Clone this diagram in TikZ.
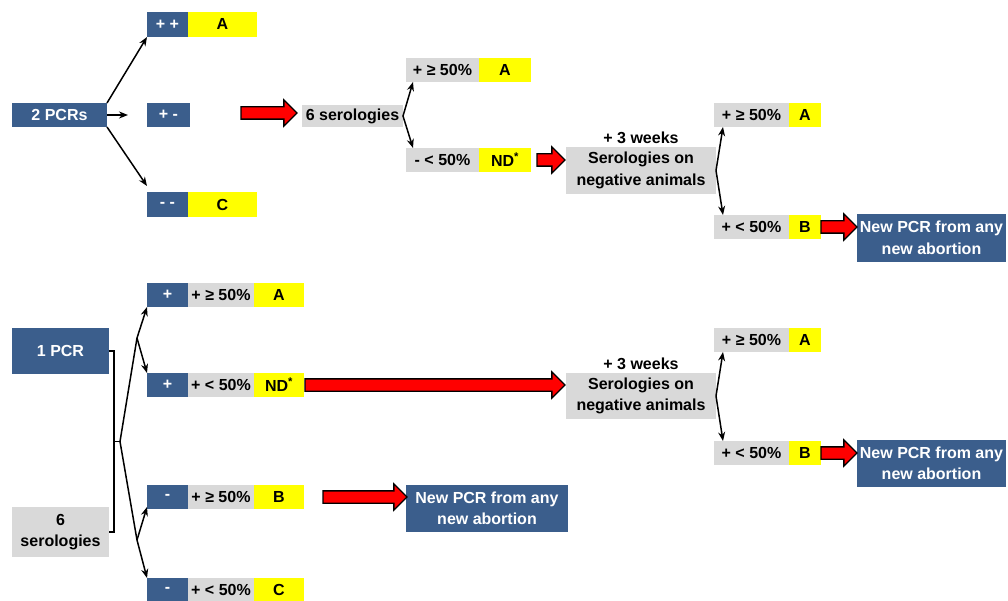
\documentclass[tikz,border=0pt]{standalone}
\usepackage{fontspec}
\setmainfont{Liberation Sans}
\usetikzlibrary{positioning,shapes.arrows,arrows.meta}
\definecolor{boxblue}{RGB}{59,94,140}
\definecolor{boxgrey}{RGB}{217,217,217}
\definecolor{boxyellow}{RGB}{255,255,0}
\tikzset{
  box/.style={minimum height=24pt, inner sep=0pt, outer sep=0pt, align=center,
    font=\bfseries\fontsize{16}{21.5}\selectfont},
  bluebox/.style={box, fill=boxblue, text=white},
  greybox/.style={box, fill=boxgrey},
  yellowbox/.style={box, fill=boxyellow},
  plain/.style={inner sep=0pt, font=\bfseries\fontsize{16}{21.5}\selectfont},
  fork/.style={-{Stealth[length=9pt,width=7pt]}, line width=1.5pt},
  forks/.style={{Stealth[length=9pt,width=7pt]}-{Stealth[length=9pt,width=7pt]}, line width=1.5pt},
  redarrow/.style={single arrow, draw=black, fill=red, line width=1.3pt,
    inner xsep=0pt, inner ysep=5.5pt, single arrow head extend=7pt,
    outer sep=0pt, anchor=tail}
}
\begin{document}
\begin{tikzpicture}[x=1pt,y=-1pt]
\useasboundingbox (0,0) rectangle (1008,601);
% top part
\node[bluebox, anchor=north west, minimum width=95pt] (pcr2) at (12,103) {2 PCRs};
\node[bluebox, anchor=north west, minimum width=41pt, minimum height=25pt] (pp) at (147,12) {+ +};
\node[yellowbox, minimum width=69pt, minimum height=25pt, right=0pt of pp] (ppA) {A};
\node[bluebox, anchor=north west, minimum width=43pt] (pm) at (147,103) {+ -};
\node[bluebox, anchor=north west, minimum width=41pt, minimum height=25pt] (mm) at (147,192) {- -};
\node[yellowbox, minimum width=69pt, minimum height=25pt, right=0pt of mm] (mmC) {C};
\draw[fork] (pcr2.north east) -- (pp.south west);
\draw[fork] (pcr2.east) -- ([xshift=-19pt]pm.west);
\draw[fork] (pcr2.south east) -- ([yshift=6pt]mm.north west);

\node[greybox, anchor=north west, minimum width=101pt, minimum height=22pt] (sero) at (302,105) {6 serologies};
\node[redarrow, minimum height=56pt] (ar1) at ([xshift=51pt,yshift=2pt]pm.east) {};
\node[greybox, anchor=north west, minimum width=73pt] (ge1) at (406,58) {+ ≥ 50\%};
\node[yellowbox, minimum width=52pt, right=0pt of ge1] (ge1A) {A};
\node[greybox, anchor=north west, minimum width=73pt] (lt1) at (406,148) {- < 50\%};
\node[yellowbox, minimum width=52pt, right=0pt of lt1] (nd1) {ND\textsuperscript{*}};
\draw[forks] ([xshift=7pt]ge1.south west) -- (sero.east) -- ([xshift=7pt]lt1.north west);

\node[greybox, anchor=north west, minimum width=150pt, minimum height=47pt] (neg1) at (566,147) {Serologies on\\negative animals};
\node[plain, above=3pt of neg1] (wk1) {+ 3 weeks};
\node[redarrow, minimum height=28pt] (ar2) at ([xshift=6pt]nd1.east) {};
\node[greybox, anchor=north west, minimum width=75pt] (ge2) at (714,103) {+ ≥ 50\%};
\node[yellowbox, minimum width=32pt, right=0pt of ge2] (ge2A) {A};
\node[greybox, anchor=north west, minimum width=75pt] (lt2) at (714,215) {+ < 50\%};
\node[yellowbox, minimum width=32pt, right=0pt of lt2] (b1) {B};
\draw[forks] ([xshift=9pt]ge2.south west) -- (neg1.east) -- ([xshift=9pt]lt2.north west);
\node[bluebox, anchor=north west, minimum width=149pt, minimum height=48pt] (new1) at (857,214) {New PCR from any\\new abortion};
\node[redarrow, minimum height=36pt] (ar3) at (b1.east) {};

% bottom part
\node[bluebox, anchor=north west, minimum width=97pt, minimum height=46pt] (pcr1) at (12,328) {1 PCR};
\node[greybox, anchor=north west, minimum width=97pt, minimum height=50pt] (sero6) at (12,507) {6\\serologies};
\draw[line width=1.5pt] (pcr1.east) -- ++(5,0) |- (sero6.east);
\path (pcr1.east) -- (sero6.east) coordinate[midway] (mid);
\draw[line width=1.5pt] ([xshift=5pt]mid) -- ++(6,0) coordinate (brk);

\node[bluebox, anchor=north west, minimum width=41pt] (r1) at (147,283) {+};
\node[greybox, minimum width=66pt, right=0pt of r1] (r1g) {+ ≥ 50\%};
\node[yellowbox, minimum width=50pt, right=0pt of r1g] (r1y) {A};
\node[bluebox, anchor=north west, minimum width=41pt] (r2) at (147,373) {+};
\node[greybox, minimum width=66pt, right=0pt of r2] (r2g) {+ < 50\%};
\node[yellowbox, minimum width=50pt, right=0pt of r2g] (nd2) {ND\textsuperscript{*}};
\node[bluebox, anchor=north west, minimum width=41pt] (r3) at (147,485) {-};
\node[greybox, minimum width=66pt, right=0pt of r3] (r3g) {+ ≥ 50\%};
\node[yellowbox, minimum width=50pt, right=0pt of r3g] (b2) {B};
\node[bluebox, anchor=north west, minimum width=41pt] (r4) at (147,578) {-};
\node[greybox, minimum width=66pt, right=0pt of r4] (r4g) {+ < 50\%};
\node[yellowbox, minimum width=50pt, right=0pt of r4g] (r4y) {C};

\coordinate (up) at (137,338);
\coordinate (dn) at (137,540);
\draw[line width=1.5pt] (up) -- (brk) -- (dn);
\draw[fork] (up) -- (r1.south west);
\draw[fork] (up) -- (r2.north west);
\draw[fork] (dn) -- ([yshift=2pt]r3.south west);
\draw[fork] (dn) -- (r4.north west);

\node[greybox, anchor=north west, minimum width=150pt, minimum height=46pt] (neg2) at (566,373) {Serologies on\\negative animals};
\node[plain, above=3pt of neg2] (wk2) {+ 3 weeks};
\node[redarrow, minimum height=260pt] (ar4) at ([xshift=1pt]nd2.east) {};
\node[bluebox, anchor=north west, minimum width=162pt, minimum height=47pt] (new3) at (406,485) {New PCR from any\\new abortion};
\node[redarrow, minimum height=84pt] (ar5) at ([xshift=19pt]b2.east) {};

\node[greybox, anchor=north west, minimum width=75pt] (ge3) at (714,328) {+ ≥ 50\%};
\node[yellowbox, minimum width=32pt, right=0pt of ge3] (ge3A) {A};
\node[greybox, anchor=north west, minimum width=75pt] (lt3) at (714,441) {+ < 50\%};
\node[yellowbox, minimum width=32pt, right=0pt of lt3] (b3) {B};
\draw[forks] ([xshift=9pt]ge3.south west) -- (neg2.east) -- ([xshift=9pt]lt3.north west);
\node[bluebox, anchor=north west, minimum width=149pt, minimum height=47pt] (new2) at (857,440) {New PCR from any\\new abortion};
\node[redarrow, minimum height=36pt] (ar6) at (b3.east) {};
\end{tikzpicture}
\end{document}
